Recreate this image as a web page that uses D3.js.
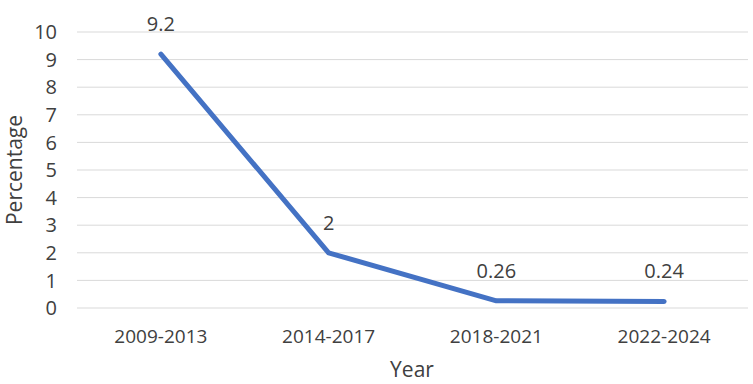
<!DOCTYPE html>
<html>
<head>
<meta charset="utf-8">
<script src="https://cdn.jsdelivr.net/npm/d3@7"></script>
<style>
  body { margin: 0; background: #fff; }
  text { font-family: "Open Sans", sans-serif; fill: #404040; }
</style>
</head>
<body>
<svg id="chart" width="753" height="384"></svg>
<script>
const years = ["2009-2013", "2014-2017", "2018-2021", "2022-2024"];
const percentage = [9.2, 2, 0.26, 0.24];
const yTicks = [0, 1, 2, 3, 4, 5, 6, 7, 8, 9, 10];

const margin = {top: 32, right: 5, bottom: 76, left: 77};
const width = 753 - margin.left - margin.right;
const height = 384 - margin.top - margin.bottom;

const svg = d3.select("#chart");
const g = svg.append("g").attr("transform", `translate(${margin.left},${margin.top})`);

const x = d3.scaleBand().domain(years).range([0, width]);
const y = d3.scaleLinear().domain([0, 10]).range([height, 0]);

// gridlines
g.selectAll(".grid")
  .data(yTicks)
  .enter().append("line")
  .attr("x1", 0).attr("x2", width)
  .attr("y1", d => y(d)).attr("y2", d => y(d))
  .attr("stroke", "#d9d9d9")
  .attr("stroke-width", 1);

// y tick labels
g.selectAll(".ylab")
  .data(yTicks)
  .enter().append("text")
  .attr("x", -20)
  .attr("y", d => y(d))
  .attr("dy", "0.36em")
  .attr("text-anchor", "end")
  .style("font-size", "20px")
  .text(d => d);

// x labels
g.selectAll(".xlab")
  .data(years)
  .enter().append("text")
  .attr("x", d => x(d) + x.bandwidth() / 2)
  .attr("y", height + 35)
  .attr("text-anchor", "middle")
  .style("font-size", "19px")
  .text(d => d);

// line
const line = d3.line()
  .x((d, i) => x(years[i]) + x.bandwidth() / 2)
  .y(d => y(d));

g.append("path")
  .datum(percentage)
  .attr("d", line)
  .attr("fill", "none")
  .attr("stroke", "#4472c4")
  .attr("stroke-width", 5)
  .attr("stroke-linecap", "round")
  .attr("stroke-linejoin", "round");

// data labels
g.selectAll(".dlab")
  .data(percentage)
  .enter().append("text")
  .attr("x", (d, i) => x(years[i]) + x.bandwidth() / 2)
  .attr("y", d => y(d) - 23)
  .attr("text-anchor", "middle")
  .style("font-size", "20px")
  .text(d => d);

// axis titles
svg.append("text")
  .attr("transform", `translate(22,${margin.top + height / 2}) rotate(-90)`)
  .attr("text-anchor", "middle")
  .style("font-size", "21px")
  .text("Percentage");

svg.append("text")
  .attr("x", 412)
  .attr("y", 377)
  .attr("text-anchor", "middle")
  .style("font-size", "21px")
  .text("Year");
</script>
</body>
</html>
